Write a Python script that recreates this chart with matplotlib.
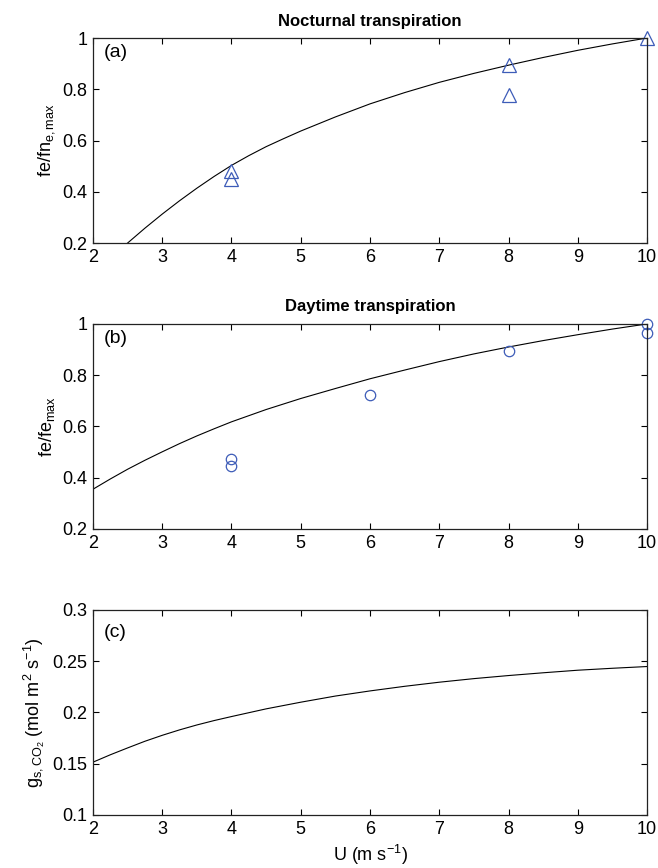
import matplotlib
matplotlib.use("Agg")
import matplotlib.pyplot as plt

plt.rcParams["font.family"] = ["Liberation Sans", "DejaVu Sans"]
plt.rcParams["mathtext.fontset"] = "custom"
plt.rcParams["mathtext.rm"] = "Liberation Sans"
plt.rcParams["mathtext.it"] = "Liberation Sans"

# wind speed for the fitted curves
u_curve_a = [2.5, 2.75, 3, 3.25, 3.5, 3.75, 4, 4.25, 4.5, 4.75, 5, 5.5, 6, 6.5,
             7, 7.5, 8, 8.5, 9, 9.5, 10]
fn_curve = [0.2, 0.258, 0.313, 0.365, 0.414, 0.46, 0.503, 0.541, 0.576, 0.607,
            0.637, 0.692, 0.743, 0.787, 0.827, 0.862, 0.894, 0.924, 0.952, 0.977, 1.0]

u_curve = [2, 2.25, 2.5, 2.75, 3, 3.25, 3.5, 3.75, 4, 4.5, 5, 5.5, 6, 6.5, 7,
           7.5, 8, 8.5, 9, 9.5, 10]
fe_curve = [0.355, 0.395, 0.433, 0.468, 0.501, 0.533, 0.563, 0.591, 0.618, 0.666,
            0.709, 0.748, 0.786, 0.820, 0.853, 0.883, 0.910, 0.935, 0.958, 0.980, 1.0]
gs_curve = [0.1515, 0.1587, 0.1654, 0.1719, 0.1777, 0.1830, 0.1878, 0.1921,
            0.1960, 0.2035, 0.2100, 0.2160, 0.2210, 0.2255, 0.2295, 0.2330,
            0.2360, 0.2387, 0.2412, 0.2431, 0.2448]

# measurements
u_noct = [4, 4, 8, 8, 10]
fn_noct = [0.481, 0.449, 0.895, 0.777, 1.0]
u_day = [4, 4, 6, 8, 10, 10]
fe_day = [0.473, 0.444, 0.722, 0.896, 1.0, 0.966]

blue = "#3d5cb8"
fig = plt.figure(figsize=(6.58, 8.68), dpi=100)

left, width, height = 0.1413, 0.842, 0.2362
ax_a = fig.add_axes([left, 0.720, width, height])
ax_b = fig.add_axes([left, 0.3906, width, height])
ax_c = fig.add_axes([left, 0.0611, width, height])


def style(ax):
    ax.set_xlim(2, 10)
    ax.set_xticks(range(2, 11))
    ax.tick_params(direction="in", top=True, right=True, length=4.5,
                   width=0.8, labelsize=13, pad=4)
    for s in ax.spines.values():
        s.set_linewidth(0.9)
        s.set_color("#222222")


ax_a.plot(u_curve_a, fn_curve, color="black", lw=0.8)
ax_a.plot(u_noct, fn_noct, "^", ms=9.5, mfc="none", mec=blue, mew=0.9, clip_on=False)
ax_a.set_ylim(0.2, 1)
ax_a.set_yticks([0.2, 0.4, 0.6, 0.8, 1])
ax_a.set_yticklabels(["0.2", "0.4", "0.6", "0.8", "1"])
ax_a.set_ylabel(r"fe/fn$_{\mathregular{e,max}}$", fontsize=13)
ax_a.set_title("Nocturnal transpiration", fontsize=12, fontweight="bold", pad=9)
ax_a.text(0.02, 0.97, "(a)", transform=ax_a.transAxes, fontsize=14, va="top")
style(ax_a)

ax_b.plot(u_curve, fe_curve, color="black", lw=0.8)
ax_b.plot(u_day, fe_day, "o", ms=7.5, mfc="none", mec=blue, mew=0.9, clip_on=False)
ax_b.set_ylim(0.2, 1)
ax_b.set_yticks([0.2, 0.4, 0.6, 0.8, 1])
ax_b.set_yticklabels(["0.2", "0.4", "0.6", "0.8", "1"])
ax_b.set_ylabel(r"fe/fe$_{\mathregular{max}}$", fontsize=13)
ax_b.set_title("Daytime transpiration", fontsize=12, fontweight="bold", pad=9)
ax_b.text(0.02, 0.97, "(b)", transform=ax_b.transAxes, fontsize=14, va="top")
style(ax_b)

ax_c.plot(u_curve, gs_curve, color="black", lw=0.8)
ax_c.set_ylim(0.1, 0.3)
ax_c.set_yticks([0.1, 0.15, 0.2, 0.25, 0.3])
ax_c.set_yticklabels(["0.1", "0.15", "0.2", "0.25", "0.3"])
ax_c.set_ylabel(r"g$_{\mathregular{s,CO_2}}$ (mol m$^{\mathregular{2}}$ s$^{\mathregular{-1}}$)",
                fontsize=13)
ax_c.set_xlabel(r"U (m s$^{\mathregular{-1}}$)", fontsize=13)
ax_c.text(0.02, 0.93, "(c)", transform=ax_c.transAxes, fontsize=14, va="top")
style(ax_c)

fig.savefig("out.png", dpi=100)
